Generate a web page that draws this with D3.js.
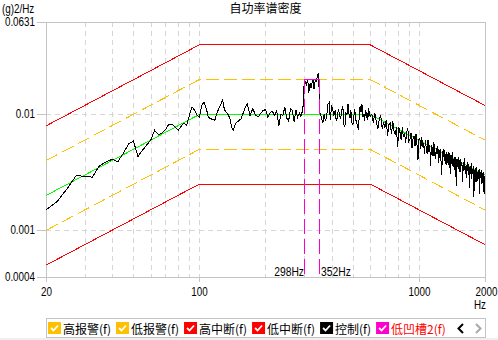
<!DOCTYPE html>
<html>
<head>
<meta charset="utf-8">
<title>自功率谱密度</title>
<script src="https://cdn.jsdelivr.net/npm/d3@7/dist/d3.min.js"></script>
<style>
  html, body { margin: 0; padding: 0; background: #fff; }
  svg { display: block; }
  .num { font-family: "Liberation Sans", Arial, sans-serif; font-size: 12px; fill: #000; }
  .cjk { font-family: "Noto Sans CJK SC", "Noto Sans CJK JP", sans-serif; font-size: 12px; }
</style>
</head>
<body>
<svg id="chart" width="498" height="340"></svg>
<script>
// ---- texts ----
const chartTitle = "自功率谱密度";
const yUnit = "(g)2/Hz";
const xUnit = "Hz";

// ---- axes ----
const xDomain = [20, 2000];
const yDomain = [0.0004, 0.0631];
const xTickValues = [20, 100, 1000, 2000];
const yTickValues = [0.0631, 0.01, 0.001, 0.0004];
const yTickLabels = ["0.0631", "0.01", "0.001", "0.0004"];
const xGridValues = [30, 40, 50, 60, 70, 80, 90, 100, 200, 300, 400, 500, 600, 700, 800, 900, 1000];
const yGridValues = [0.01, 0.001];

// ---- test profile (breakpoints, g²/Hz) ----
const profileFreq = [20, 100, 600, 2000];
const referencePsd = [0.002, 0.01, 0.01, 0.003];
const alarmHighPsd = [0.004, 0.02, 0.02, 0.006];
const alarmLowPsd = [0.001, 0.005, 0.005, 0.0015];
const abortHighPsd = [0.00796, 0.0398, 0.0398, 0.01194];
const abortLowPsd = [0.000502, 0.00251, 0.00251, 0.000754];

// ---- notch band ----
const notchFreq = [298, 352];
const notchLabels = ["298Hz", "352Hz"];
const notchLevel = 0.02;

// ---- measured control spectrum [Hz, g²/Hz] ----
const controlTrace = [
  [20,0.00150],[22.5,0.00178],[25,0.00230],[27.5,0.00298],[30,0.00292],[32.5,0.00288],[35,0.00360],
  [37.5,0.00390],[40,0.00410],[42.5,0.00392],[45,0.00462],[47.5,0.00555],[50,0.00590],[52.5,0.00435],
  [55,0.00490],[57.5,0.00545],[60,0.00600],[62.5,0.00730],[65,0.00670],[67.5,0.00690],[70,0.00740],
  [72.5,0.00820],[75,0.00825],[77.5,0.00780],[80,0.00730],[82.5,0.00790],[85,0.00840],[87.5,0.00810],
  [90,0.00980],[92.5,0.01160],[95,0.01090],[97.5,0.00985],[100,0.00950],
  [102.5,0.0120],[105,0.0128],[107.5,0.0112],[110,0.0094],[112.5,0.0092],[115,0.0090],[117.5,0.0089],
  [120,0.0102],[122.5,0.0112],[125,0.0121],[127.5,0.0133],[130,0.0110],[132.5,0.0104],[135,0.0100],
  [137.5,0.0093],[140,0.0078],[142.5,0.0073],[145,0.0081],[147.5,0.0085],[150,0.0087],
  [155,0.0092],[160,0.0109],[165,0.0124],[170,0.0098],[175,0.0112],[180,0.0099],[185,0.0095],
  [190,0.0102],[195,0.0108],[200,0.0110],[205,0.0095],[210,0.0104],[215,0.0106],[220,0.0098],
  [225,0.0108],[230,0.0079],[235,0.0100],[240,0.0098],[245,0.0116],[250,0.0093],[255,0.0088],
  [260,0.0112],[265,0.0108],[270,0.0086],[275,0.0110],[280,0.0094],[285,0.0103],[290,0.0096],
  [295,0.0108],[297.5,0.0124],
  [300,0.0186],[302.5,0.0196],[305,0.0190],[307.5,0.0175],[310,0.0196],[312.5,0.0185],[315,0.0152],
  [317.5,0.0178],[320,0.0186],[322.5,0.0170],[325,0.0180],[327.5,0.0199],[330,0.0195],[332.5,0.0165],
  [335,0.0180],[337.5,0.0201],[340,0.0190],[342.5,0.0205],[345,0.0212],[347.5,0.0225],[350,0.0200],
  [352.5,0.0105],
  [355,0.0102],[360,0.0093],[365,0.0084],[370,0.0100],[375,0.0088],[380,0.0096],[385,0.0122],
  [390,0.0126],[395,0.0089],[400,0.0120],[405,0.0110],[410,0.0098],[415,0.0108],[420,0.0088],
  [425,0.0094],[430,0.0112],[435,0.0098],[440,0.0091],[445,0.0108],[450,0.0119],[455,0.0082],
  [460,0.0078],[465,0.0102],[470,0.0099],[475,0.0124],[480,0.0101],[485,0.0093],[490,0.0108],
  [495,0.0085],[500,0.0081],[505,0.0096],[510,0.0112],[515,0.0090],[520,0.0086],[525,0.0079],
  [530,0.0074],[535,0.0098],[540,0.0119],[545,0.0104],[550,0.0124],[555,0.0096],[560,0.0101],
  [565,0.0088],[570,0.0110],[575,0.0093],[580,0.0104],[585,0.0090],[590,0.0113],[595,0.0099],
  [600,0.0096],
  [610,0.01006],[620,0.00851],[630,0.01030],[640,0.00859],[650,0.00747],[660,0.00917],[670,0.00981],
  [680,0.00754],[690,0.00854],[700,0.00764],[710,0.00902],[720,0.00656],[730,0.00818],[740,0.00842],
  [750,0.00674],[760,0.00878],[770,0.00724],[780,0.00667],[790,0.00777],[800,0.00519],[810,0.00779],
  [820,0.00699],[830,0.00601],[840,0.00772],[850,0.00638],[860,0.00694],[870,0.00566],[880,0.00708],
  [890,0.00760],[900,0.00586],[910,0.00612],[920,0.00696],[930,0.00515],[940,0.00618],[950,0.00646],
  [960,0.00534],[970,0.00678],[980,0.00545],[990,0.00401],[1000,0.00605],
  [1010,0.00625],[1020,0.00503],[1030,0.00638],[1040,0.00522],[1050,0.00569],[1060,0.00452],
  [1070,0.00598],[1080,0.00516],[1090,0.00458],[1100,0.00607],[1110,0.00475],[1120,0.00541],
  [1130,0.00359],[1140,0.00546],[1150,0.00512],[1160,0.00436],[1170,0.00578],[1180,0.00453],
  [1190,0.00413],[1200,0.00512],[1210,0.00454],[1220,0.00532],[1230,0.00384],[1240,0.00468],
  [1250,0.00505],[1260,0.00407],[1270,0.00298],[1280,0.00487],[1290,0.00432],[1300,0.00506],
  [1310,0.00397],[1320,0.00452],[1330,0.00365],[1340,0.00478],[1350,0.00402],[1360,0.00367],
  [1370,0.00473],[1380,0.00410],[1390,0.00306],[1400,0.00445],[1410,0.00374],[1420,0.00470],
  [1430,0.00354],[1440,0.00409],[1450,0.00330],[1460,0.00432],[1470,0.00374],[1480,0.00244],
  [1490,0.00412],[1500,0.00387],[1510,0.00340],[1520,0.00433],[1530,0.00349],[1540,0.00319],
  [1550,0.00413],[1560,0.00357],[1570,0.00386],[1580,0.00263],[1590,0.00392],[1600,0.00325],
  [1610,0.00420],[1620,0.00335],[1630,0.00306],[1640,0.00364],[1650,0.00286],[1660,0.00391],
  [1670,0.00338],[1680,0.00301],[1690,0.00373],[1700,0.00233],[1710,0.00354],[1720,0.00307],
  [1730,0.00380],[1740,0.00279],[1750,0.00337],[1760,0.00304],[1770,0.00362],[1780,0.00194],
  [1790,0.00334],[1800,0.00285],[1810,0.00344],[1820,0.00263],[1830,0.00354],[1840,0.00299],
  [1850,0.00266],[1860,0.00330],[1870,0.00278],[1880,0.00340],[1890,0.00205],[1900,0.00310],
  [1910,0.00284],[1920,0.00329],[1930,0.00252],[1940,0.00312],[1950,0.00259],[1960,0.00318],
  [1970,0.00216],[1980,0.00293],[1990,0.00265],[2000,0.00208]
];

// ---- legend ----
const legendNames = ["高报警(f)", "低报警(f)", "高中断(f)", "低中断(f)", "控制(f)", "低凹槽2(f)"];
const legendColors = ["#ffc000", "#ffc000", "#ff0000", "#ff0000", "#000000", "#ff00cc"];
const legendTextColors = ["#000", "#000", "#000", "#000", "#000", "#ff0000"];

// ---- drawing ----
const svg = d3.select("#chart");
const axisColor = "#c4c4c4";
const gridColor = "#d6d6d6";

const x = d3.scaleLog().domain(xDomain).range([46, 485]);
const y = d3.scaleLog().domain(yDomain).range([276.6, 21.6]);
// pixel-snapped copies for axes and grid
const xr = x.copy().interpolate(d3.interpolateRound);
const yr = y.copy().interpolate(d3.interpolateRound);

const plotLeft = xr(xDomain[0]), plotRight = xr(xDomain[1]);
const plotTop = yr(yDomain[1]), plotBottom = yr(yDomain[0]);

// squeeze Latin labels horizontally to a narrow UI face
function narrow(sel, k = 0.82) {
  sel.each(function () {
    const w = this.getComputedTextLength();
    d3.select(this).attr("textLength", (w * k).toFixed(1)).attr("lengthAdjust", "spacingAndGlyphs");
  });
}

// dashed grid
const grid = svg.append("g")
  .attr("stroke", gridColor)
  .attr("stroke-dasharray", "5,4")
  .attr("shape-rendering", "crispEdges");
grid.selectAll("line.gx").data(xGridValues).join("line")
  .attr("class", "gx")
  .attr("x1", d => xr(d) + 0.5).attr("x2", d => xr(d) + 0.5)
  .attr("y1", plotTop).attr("y2", plotBottom);
grid.selectAll("line.gy").data(yGridValues).join("line")
  .attr("class", "gy")
  .attr("x1", plotLeft).attr("x2", plotRight)
  .attr("y1", d => yr(d) + 0.5).attr("y2", d => yr(d) + 0.5);

// frame (top and right)
svg.append("line").attr("x1", plotLeft).attr("x2", plotRight + 0.5)
  .attr("y1", plotTop + 0.5).attr("y2", plotTop + 0.5)
  .attr("stroke", axisColor).attr("shape-rendering", "crispEdges");
svg.append("line").attr("x1", plotRight + 0.5).attr("x2", plotRight + 0.5)
  .attr("y1", plotTop).attr("y2", plotBottom)
  .attr("stroke", axisColor).attr("shape-rendering", "crispEdges");

// axes
const xAxis = d3.axisBottom(xr).tickValues(xTickValues).tickFormat(d3.format("d"))
  .tickSize(5).tickSizeOuter(0).tickPadding(5);
const gx = svg.append("g").attr("transform", `translate(0,${plotBottom})`).call(xAxis);
const yAxis = d3.axisLeft(yr).tickValues(yTickValues).tickFormat((d, i) => yTickLabels[i])
  .tickSize(9).tickSizeOuter(0).tickPadding(2);
const gy = svg.append("g").attr("transform", `translate(${plotLeft},0)`).call(yAxis);
[gx, gy].forEach(g => {
  g.attr("font-family", null).attr("font-size", null);
  g.select(".domain").attr("stroke", axisColor).attr("shape-rendering", "crispEdges");
  g.selectAll(".tick line").attr("stroke", axisColor).attr("shape-rendering", "crispEdges");
  g.selectAll(".tick text").attr("class", "num").call(narrow);
});
// last frequency label sits against the right edge
gx.selectAll(".tick text").filter(d => d === xDomain[1])
  .attr("text-anchor", "end").attr("x", 12);

// unit labels and title
svg.append("text").attr("class", "num").attr("x", 2).attr("y", 13).text(yUnit).call(narrow);
svg.append("text").attr("class", "num").attr("x", plotRight - 11).attr("y", 309).text(xUnit).call(narrow);
svg.append("text").attr("class", "cjk").attr("x", (plotLeft + plotRight) / 2).attr("y", 13)
  .attr("text-anchor", "middle").style("fill", "#000").text(chartTitle);

// profile lines
const line = d3.line().x(d => x(d[0])).y(d => y(d[1]));
const profile = vals => d3.zip(profileFreq, vals);
const plot = svg.append("g").attr("fill", "none").attr("shape-rendering", "crispEdges");

[
  { v: abortHighPsd, c: "#ff0000", dash: null },
  { v: abortLowPsd, c: "#ff0000", dash: null },
  { v: alarmHighPsd, c: "#ffc000", dash: "13,5" },
  { v: alarmLowPsd, c: "#ffc000", dash: "13,5" },
  { v: referencePsd, c: "#00ff00", dash: null }
].forEach(s => {
  plot.append("path").attr("d", line(profile(s.v)))
    .attr("stroke", s.c).attr("stroke-width", 1)
    .attr("stroke-dasharray", s.dash);
});

// control spectrum
plot.append("path").attr("d", line(controlTrace))
  .attr("stroke", "#000").attr("stroke-width", 1);

// notch band
const notchColor = "#ff00cc";
const nTop = y(notchLevel);
plot.append("line")
  .attr("x1", xr(notchFreq[0]) + 0.5).attr("x2", xr(notchFreq[1]) + 0.5)
  .attr("y1", nTop).attr("y2", nTop)
  .attr("stroke", notchColor);
notchFreq.forEach(f => {
  plot.append("line")
    .attr("x1", xr(f) + 0.5).attr("x2", xr(f) + 0.5)
    .attr("y1", nTop).attr("y2", plotBottom - 3)
    .attr("stroke", notchColor).attr("stroke-width", 1.2).attr("stroke-dasharray", "15,5");
});
svg.append("text").attr("class", "num").attr("x", xr(notchFreq[0])).attr("y", 276)
  .attr("text-anchor", "end").text(notchLabels[0]).call(narrow, 0.86);
svg.append("text").attr("class", "num").attr("x", xr(notchFreq[1]) + 2).attr("y", 276)
  .text(notchLabels[1]).call(narrow, 0.86);

// legend bar
svg.append("rect").attr("x", 0).attr("y", 338).attr("width", 498).attr("height", 2).attr("fill", "#f0f0f0");
const legend = svg.append("g");
legend.append("rect").attr("x", plotLeft + 0.5).attr("y", 318.5)
  .attr("width", plotRight - plotLeft).attr("height", 19)
  .attr("fill", "#fff").attr("stroke", axisColor);
let lx = plotLeft + 2;
legendNames.forEach((name, i) => {
  const g = legend.append("g").attr("transform", `translate(${lx},322)`);
  g.append("rect").attr("width", 13).attr("height", 12).attr("fill", legendColors[i]);
  g.append("path").attr("d", "M3,6L5.5,8.5L10,3.5")
    .attr("stroke", "#fff").attr("stroke-width", 1.8).attr("fill", "none");
  const t = g.append("text").attr("class", "cjk").attr("x", 15).attr("y", 11.5)
    .style("fill", legendTextColors[i]).text(name);
  lx += 15 + t.node().getComputedTextLength() + 5;
});
// scroll arrows
legend.append("path").attr("d", "M463,324L458.5,328.5L463,333")
  .attr("stroke", "#000").attr("stroke-width", 2).attr("fill", "none");
legend.append("path").attr("d", "M476,324L480.5,328.5L476,333")
  .attr("stroke", "#a8a8a8").attr("stroke-width", 2).attr("fill", "none");
</script>
</body>
</html>
